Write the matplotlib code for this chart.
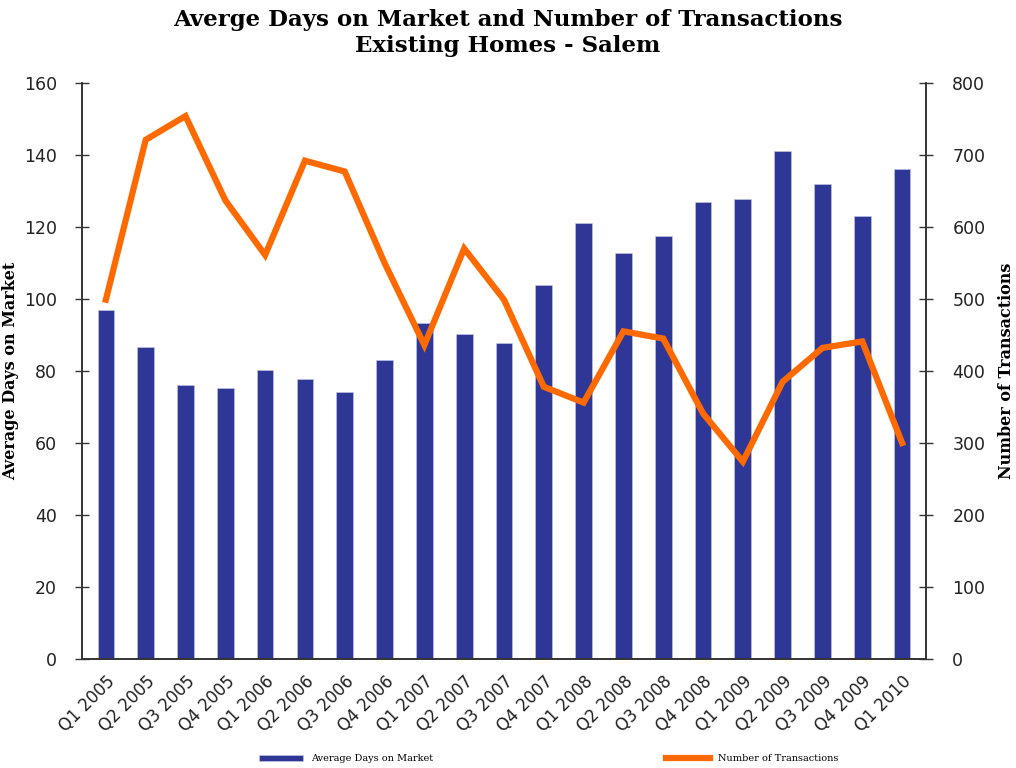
import numpy as np
import matplotlib
matplotlib.use('Agg')
import matplotlib.pyplot as plt

# quarters
quarters = ['Q1 2005', 'Q2 2005', 'Q3 2005', 'Q4 2005',
            'Q1 2006', 'Q2 2006', 'Q3 2006', 'Q4 2006',
            'Q1 2007', 'Q2 2007', 'Q3 2007', 'Q4 2007',
            'Q1 2008', 'Q2 2008', 'Q3 2008', 'Q4 2008',
            'Q1 2009', 'Q2 2009', 'Q3 2009', 'Q4 2009', 'Q1 2010']

# average days on market (left axis)
days_on_market = [97, 86.7, 76, 75.4, 80.4, 77.7, 74.2, 83.1, 93.2, 90.2, 87.9,
                  103.8, 121, 112.9, 117.6, 126.9, 127.7, 141, 132, 123, 136]

# number of transactions (right axis)
transactions = [499, 721, 754, 637, 561, 692, 677, 550, 436, 570, 499,
                378, 356, 455, 445, 341, 274, 385, 432, 441, 300]

bar_color = '#2E3796'
line_color = '#FF6A00'
axis_color = '#333333'

fig = plt.figure(figsize=(10.16, 7.68), dpi=100)
ax = fig.add_axes([0.0807, 0.142, 0.8307, 0.75])
ax2 = ax.twinx()

x = np.arange(len(quarters))
b = ax.bar(x, days_on_market, width=0.42, color=bar_color, edgecolor='#c8cbe8',
           linewidth=0.4, label='Average Days on Market', zorder=2)
l, = ax2.plot(x, transactions, color=line_color, lw=4.5, solid_joinstyle='miter',
              label='Number of Transactions', zorder=3)

ax.set_xlim(-0.6, len(quarters) - 0.4)
ax.set_ylim(0, 160)
ax2.set_ylim(0, 800)
ax.set_yticks(np.arange(0, 161, 20))
ax2.set_yticks(np.arange(0, 801, 100))

ax.set_xticks(x)
ax.set_xticklabels(quarters, rotation=45, ha='right', rotation_mode='anchor',
                   fontsize=12, color='#222222')
ax.tick_params(axis='x', length=0, pad=10)
ax.tick_params(axis='y', direction='inout', length=10, width=1, colors=axis_color,
               labelsize=12.5, pad=13, labelcolor='#222222')
ax2.tick_params(axis='y', direction='inout', length=10, width=1, colors=axis_color,
                labelsize=12.5, pad=14, labelcolor='#222222')

for a in (ax, ax2):
    a.spines['top'].set_visible(False)
    for s in ('left', 'right', 'bottom'):
        a.spines[s].set_color(axis_color)
        a.spines[s].set_linewidth(1.2)

ax.set_ylabel('Average Days on Market', fontsize=11.5, fontweight='bold',
              family='DejaVu Serif')
ax.yaxis.set_label_coords(-0.074, 0.5)
ax2.set_ylabel('Number of Transactions', fontsize=11.5, fontweight='bold',
               family='DejaVu Serif', rotation=90)
ax2.yaxis.set_label_coords(1.085, 0.5)

fig.suptitle('Averge Days on Market and Number of Transactions\nExisting Homes - Salem',
             fontsize=16.5, fontweight='bold', family='DejaVu Serif', y=0.988,
             linespacing=1.25)

fig.legend([b, l], ['Average Days on Market', 'Number of Transactions'],
           loc='center', bbox_to_anchor=(0.54, 0.012), ncol=2, frameon=False,
           prop={'family': 'DejaVu Serif', 'size': 7},
           handlelength=4.5, columnspacing=24, handleheight=0.5)

fig.savefig('out.png', dpi=100)
